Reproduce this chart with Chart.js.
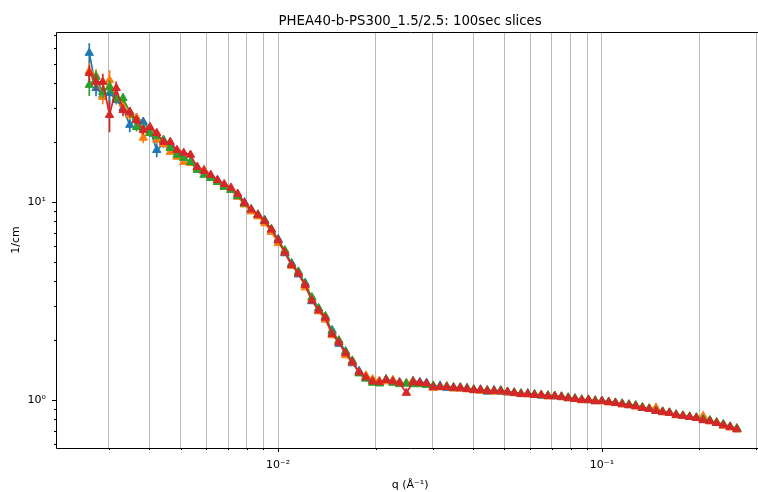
<!DOCTYPE html>
<html>
<head>
<meta charset="utf-8">
<script src="https://cdn.jsdelivr.net/npm/chart.js@4.4.1/dist/chart.umd.min.js"></script>
<style>
  html, body { margin: 0; padding: 0; background: #fff; overflow: hidden; }
  #wrap { width: 758px; height: 492px; overflow: hidden; }
</style>
</head>
<body>
<div id="wrap"><canvas id="chart" width="770" height="492"></canvas></div>
<script>
const $ = document.querySelector.bind(document);

// q in 1/Angstrom
const q = [
  0.002610, 0.002738, 0.002873, 0.003014, 0.003162, 0.003318, 0.003481, 0.003652, 0.003831, 0.004019,
  0.004217, 0.004424, 0.004642, 0.004870, 0.005109, 0.005360, 0.005623, 0.005900, 0.006190, 0.006494,
  0.006813, 0.007148, 0.007499, 0.007867, 0.008254, 0.008660, 0.009085, 0.009532, 0.010000, 0.010491,
  0.011007, 0.011548, 0.012115, 0.012711, 0.013335, 0.013990, 0.014678, 0.015399, 0.016156, 0.016950,
  0.017783, 0.018657, 0.019573, 0.020535, 0.021544, 0.022603, 0.023714, 0.024879, 0.026102, 0.027384,
  0.028730, 0.030142, 0.031623, 0.033177, 0.034807, 0.036517, 0.038312, 0.040194, 0.042170, 0.044242,
  0.046416, 0.048697, 0.051090, 0.053600, 0.056234, 0.058997, 0.061897, 0.064938, 0.068129, 0.071477,
  0.074989, 0.078674, 0.082540, 0.086596, 0.090852, 0.095317, 0.10000, 0.10491, 0.11007, 0.11548,
  0.12115, 0.12711, 0.13335, 0.13990, 0.14678, 0.15399, 0.16156, 0.16950, 0.17783, 0.18657,
  0.19573, 0.20535, 0.21544, 0.22603, 0.23714, 0.24879, 0.26102,
];

// intensity (1/cm), one array per 100 s slice
const slice1 = [
  56.6, 37.6, 34.7, 35.5, 32.7, 29.8, 24.5, 26.6, 25.4, 23.1,
  18.3, 19.6, 19.0, 17.9, 16.7, 15.9, 15.0, 14.5, 13.5, 12.9,
  12.0, 11.5, 10.85, 9.95, 9.05, 8.55, 8.10, 7.15, 6.50, 5.50,
  4.90, 4.30, 3.90, 3.15, 2.90, 2.55, 2.25, 1.92, 1.76, 1.53,
  1.40, 1.29, 1.26, 1.22, 1.27, 1.25, 1.23, 1.21, 1.25, 1.23,
  1.22, 1.17, 1.18, 1.15, 1.16, 1.14, 1.15, 1.12, 1.13, 1.10,
  1.12, 1.10, 1.09, 1.09, 1.07, 1.08, 1.06, 1.05, 1.05, 1.04,
  1.04, 1.02, 1.01, 1.00, 0.995, 0.985, 0.99, 0.975, 0.965, 0.955,
  0.94, 0.935, 0.91, 0.90, 0.88, 0.87, 0.86, 0.84, 0.83, 0.82,
  0.81, 0.79, 0.785, 0.765, 0.745, 0.73, 0.715,
];
const slice2 = [
  45.9, 43.3, 33.9, 41.3, 33.5, 31.3, 27.5, 26.6, 21.1, 22.6,
  20.6, 19.6, 17.9, 16.9, 15.9, 15.7, 14.8, 14.5, 13.2, 12.6,
  12.0, 11.5, 10.6, 9.70, 8.95, 8.45, 7.80, 7.05, 6.20, 5.60,
  4.75, 4.40, 3.70, 3.25, 2.80, 2.55, 2.12, 1.98, 1.68, 1.55,
  1.37, 1.33, 1.27, 1.25, 1.24, 1.26, 1.22, 1.22, 1.24, 1.21,
  1.20, 1.15, 1.16, 1.17, 1.14, 1.14, 1.13, 1.13, 1.11, 1.12,
  1.10, 1.11, 1.09, 1.08, 1.07, 1.065, 1.06, 1.055, 1.04, 1.045,
  1.03, 1.02, 1.01, 0.995, 1.00, 0.985, 0.985, 0.97, 0.965, 0.95,
  0.945, 0.925, 0.91, 0.905, 0.915, 0.865, 0.86, 0.835, 0.83, 0.82,
  0.815, 0.83, 0.78, 0.77, 0.74, 0.725, 0.71,
];
const slice3 = [
  39.0, 42.8, 35.9, 38.1, 33.5, 33.5, 28.5, 23.9, 23.6, 22.3,
  21.5, 20.6, 18.7, 17.3, 16.7, 15.9, 14.5, 13.7, 13.2, 12.6,
  11.9, 11.5, 10.7, 9.80, 9.20, 8.65, 8.05, 7.30, 6.40, 5.70,
  4.85, 4.45, 3.85, 3.30, 2.90, 2.65, 2.20, 2.00, 1.75, 1.58,
  1.36, 1.28, 1.22, 1.21, 1.27, 1.22, 1.20, 1.21, 1.20, 1.20,
  1.19, 1.18, 1.16, 1.17, 1.15, 1.16, 1.14, 1.13, 1.12, 1.12,
  1.11, 1.12, 1.10, 1.09, 1.08, 1.075, 1.07, 1.06, 1.055, 1.05,
  1.04, 1.03, 1.02, 1.005, 1.005, 0.995, 0.99, 0.98, 0.97, 0.96,
  0.95, 0.94, 0.92, 0.905, 0.885, 0.875, 0.865, 0.845, 0.835, 0.825,
  0.815, 0.80, 0.79, 0.77, 0.755, 0.735, 0.72,
];
const slice4 = [
  44.8, 40.4, 40.4, 27.5, 37.6, 29.1, 28.5, 25.9, 23.1, 23.9,
  22.3, 20.1, 20.1, 18.3, 17.7, 17.3, 15.0, 14.3, 13.7, 12.9,
  12.3, 11.8, 11.0, 9.90, 9.15, 8.60, 8.00, 7.25, 6.40, 5.55,
  4.80, 4.35, 3.80, 3.18, 2.83, 2.60, 2.15, 1.95, 1.72, 1.55,
  1.38, 1.30, 1.24, 1.23, 1.26, 1.24, 1.22, 1.085, 1.23, 1.22,
  1.21, 1.16, 1.16, 1.16, 1.15, 1.15, 1.135, 1.12, 1.125, 1.11,
  1.11, 1.105, 1.10, 1.085, 1.07, 1.07, 1.06, 1.06, 1.045, 1.045,
  1.035, 1.02, 1.01, 1.00, 1.00, 0.985, 0.985, 0.975, 0.965, 0.95,
  0.94, 0.93, 0.91, 0.90, 0.88, 0.87, 0.86, 0.84, 0.83, 0.82,
  0.81, 0.79, 0.78, 0.765, 0.745, 0.73, 0.71,
];

// error bars (1/cm), only the low-q ones stick out past the markers
const err1 = [6.8, 3.4, 2.1, 6.0, 1.6, 1.5, 2.0, 1.3, 1.3, 1.8, 1.5, 0.8];
const err2 = [4.6, 3.5, 2.7, 5.0, 2.0, 2.5, 1.4, 1.3, 1.3, 0.9, 0.8, 0.6];
const err3 = [4.7, 3.4, 2.5, 3.0, 2.0, 1.7, 1.4, 1.2, 1.0, 0.9, 0.6, 0.6];
const err4 = [4.5, 3.6, 4.0, 5.0, 3.0, 2.0, 1.7, 1.3, 1.2, 1.0, 0.9, 0.6];

const xTicks = [0.003, 0.004, 0.005, 0.006, 0.007, 0.008, 0.009, 0.01,
  0.02, 0.03, 0.04, 0.05, 0.06, 0.07, 0.08, 0.09, 0.1, 0.2, 0.3];
const xMajors = [0.01, 0.1];
const xMajorLabels = ["10\u207B\u00B2", "10\u207B\u00B9"];
const yTicks = [0.6, 0.7, 0.8, 0.9, 1, 2, 3, 4, 5, 6, 7, 8, 9, 10,
  20, 30, 40, 50, 60, 70];
const yMajors = [1, 10];
const yMajorLabels = ["10\u2070", "10\u00B9"];

const colors = ["#1f77b4", "#ff7f0e", "#2ca02c", "#d62728"];
const series = [slice1, slice2, slice3, slice4];
const errors = [err1, err2, err3, err4];

const FONT = "DejaVu Sans";

function majorIndex(v, majors) {
  return majors.findIndex((m) => Math.abs(v - m) / m < 1e-6);
}

const errorBars = {
  id: "errorBars",
  beforeDatasetDraw(chart, args) {
    const { ctx, chartArea: a } = chart;
    const ys = chart.scales.y;
    const vals = series[args.index];
    const err = errors[args.index];
    ctx.save();
    ctx.beginPath();
    ctx.rect(a.left, a.top, a.right - a.left, a.bottom - a.top);
    ctx.clip();
    ctx.strokeStyle = colors[args.index];
    ctx.lineWidth = 1.7;
    err.forEach((e, i) => {
      const pt = args.meta.data[i];
      ctx.beginPath();
      ctx.moveTo(pt.x, ys.getPixelForValue(vals[i] + e));
      ctx.lineTo(pt.x, ys.getPixelForValue(Math.max(vals[i] - e, 0.01)));
      ctx.stroke();
    });
    ctx.restore();
  },
};

const frame = {
  id: "frame",
  afterDraw(chart) {
    const { ctx, chartArea: a } = chart;
    const xs = chart.scales.x;
    const ys = chart.scales.y;
    ctx.save();
    ctx.strokeStyle = "#000";
    ctx.lineWidth = 1;

    // spines (right one is off the page)
    ctx.beginPath();
    ctx.moveTo(a.right, a.top + 0.5);
    ctx.lineTo(a.left + 0.5, a.top + 0.5);
    ctx.lineTo(a.left + 0.5, a.bottom + 0.5);
    ctx.lineTo(a.right, a.bottom + 0.5);
    ctx.stroke();

    // tick marks, longer for the decades
    ctx.beginPath();
    xTicks.forEach((v) => {
      const px = Math.round(xs.getPixelForValue(v)) + 0.5;
      const len = majorIndex(v, xMajors) >= 0 ? 4 : 2;
      ctx.moveTo(px, a.bottom);
      ctx.lineTo(px, a.bottom + len);
    });
    yTicks.forEach((v) => {
      const py = Math.round(ys.getPixelForValue(v)) + 0.5;
      const len = majorIndex(v, yMajors) >= 0 ? 4 : 2;
      ctx.moveTo(a.left, py);
      ctx.lineTo(a.left - len, py);
    });
    ctx.stroke();

    ctx.fillStyle = "#000";
    ctx.textAlign = "center";
    ctx.textBaseline = "alphabetic";
    ctx.font = `13.3px "${FONT}"`;
    ctx.fillText("PHEA40-b-PS300_1.5/2.5: 100sec slices", (a.left + a.right) / 2, 25);

    ctx.font = `11px "${FONT}"`;
    ctx.textBaseline = "middle";
    ctx.fillText("q (\u00C5\u207B\u00B9)", (a.left + a.right) / 2, 485);

    ctx.translate(16, (a.top + a.bottom) / 2);
    ctx.rotate(-Math.PI / 2);
    ctx.fillText("1/cm", 0, 0);
    ctx.restore();
  },
};

new Chart($("#chart"), {
  type: "line",
  data: {
    datasets: series.map((vals, k) => ({
      label: "slice " + (k + 1),
      data: q.map((x, i) => ({ x: x, y: vals[i] })),
      order: series.length - 1 - k, // later slices on top, like matplotlib
      borderColor: colors[k],
      backgroundColor: colors[k],
      borderWidth: 1.7,
      pointStyle: "triangle",
      pointRadius: 4.8,
      pointBorderWidth: 1,
      pointHoverRadius: 4.8,
      tension: 0,
      fill: false,
    })),
  },
  options: {
    responsive: false,
    animation: false,
    events: [],
    layout: { padding: { top: 32, right: 3, left: 0, bottom: 0 } },
    plugins: {
      legend: { display: false },
      tooltip: { enabled: false },
      title: { display: false },
    },
    scales: {
      x: {
        type: "logarithmic",
        min: 0.00206,
        max: 0.317,
        bounds: "data",
        afterBuildTicks: (s) => { s.ticks = xTicks.map((v) => ({ value: v })); },
        afterFit: (s) => { s.height = 44; },
        grid: { color: "#b8b8b8", lineWidth: 1, drawTicks: false },
        border: { display: false },
        ticks: {
          autoSkip: false,
          maxRotation: 0,
          padding: 11,
          color: "#000",
          font: { family: FONT, size: 11 },
          callback: (v) => {
            const i = majorIndex(v, xMajors);
            return i >= 0 ? xMajorLabels[i] : "";
          },
        },
      },
      y: {
        type: "logarithmic",
        min: 0.572,
        max: 72.2,
        bounds: "data",
        afterBuildTicks: (s) => { s.ticks = yTicks.map((v) => ({ value: v })); },
        afterFit: (s) => { s.width = 56; },
        grid: { display: false, drawTicks: false },
        border: { display: false },
        ticks: {
          autoSkip: false,
          padding: 10,
          color: "#000",
          font: { family: FONT, size: 11 },
          callback: (v) => {
            const i = majorIndex(v, yMajors);
            return i >= 0 ? yMajorLabels[i] : "";
          },
        },
      },
    },
  },
  plugins: [errorBars, frame],
});
</script>
</body>
</html>
